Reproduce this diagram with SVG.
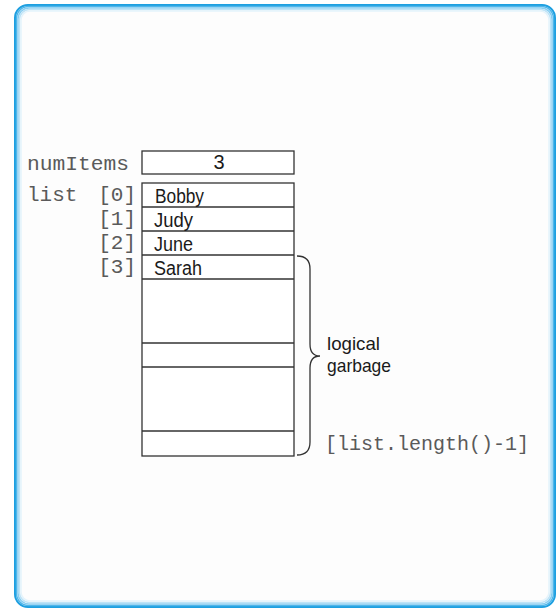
<svg xmlns="http://www.w3.org/2000/svg" width="558" height="611" viewBox="0 0 558 611">
<style>
.mono{font-family:"Liberation Mono","DejaVu Sans Mono",monospace;font-size:21px;fill:#5a5a5a}
.sans{font-family:"Liberation Sans",Arial,sans-serif;font-size:20px;fill:#1a1a1a}
.cell{fill:#ffffff;stroke:#333;stroke-width:1.3}
.line{stroke:#333;stroke-width:1.3}
.brace{fill:none;stroke:#333;stroke-width:1.3}
</style>
<rect x="0" y="0" width="558" height="611" fill="#ffffff"/>
<g id="frame" fill="none">
<rect x="15" y="5" width="540" height="602" rx="13" fill="#fdfdfd" stroke="#1d9fe0" stroke-width="2"/>
<rect x="16.5" y="6.5" width="537" height="599" rx="12" stroke="#4fb6ea" stroke-width="1.5"/>
<rect x="18" y="8" width="534" height="596" rx="11" stroke="#86cdf1" stroke-width="1.5"/>
<rect x="19.5" y="9.5" width="531" height="593" rx="10" stroke="#bde3f7" stroke-width="1.5"/>
<rect x="21" y="11" width="528" height="590" rx="9" stroke="#e4f3fb" stroke-width="1.5"/>
</g>
<g id="numItems">
<text class="mono" x="27" y="170" textLength="102" lengthAdjust="spacingAndGlyphs">numItems</text>
<rect class="cell" x="142" y="151" width="152" height="23"/>
<text class="sans" x="219" y="169" text-anchor="middle">3</text>
</g>
<g id="list">
<text class="mono" x="27" y="201">list</text>
<rect class="cell" x="142" y="183" width="152" height="273"/>
<line class="line" x1="142" y1="207" x2="294" y2="207"/>
<line class="line" x1="142" y1="231" x2="294" y2="231"/>
<line class="line" x1="142" y1="255" x2="294" y2="255"/>
<line class="line" x1="142" y1="279" x2="294" y2="279"/>
<line class="line" x1="142" y1="343" x2="294" y2="343"/>
<line class="line" x1="142" y1="367" x2="294" y2="367"/>
<line class="line" x1="142" y1="431" x2="294" y2="431"/>
<text class="mono" x="136" y="201" text-anchor="end">[0]</text>
<text class="mono" x="136" y="225" text-anchor="end">[1]</text>
<text class="mono" x="136" y="249" text-anchor="end">[2]</text>
<text class="mono" x="136" y="273" text-anchor="end">[3]</text>
<text class="sans" x="155" y="203" textLength="49" lengthAdjust="spacingAndGlyphs">Bobby</text>
<text class="sans" x="154" y="227" textLength="39" lengthAdjust="spacingAndGlyphs">Judy</text>
<text class="sans" x="154" y="251" textLength="39" lengthAdjust="spacingAndGlyphs">June</text>
<text class="sans" x="154" y="275" textLength="48" lengthAdjust="spacingAndGlyphs">Sarah</text>
</g>
<g id="garbage">
<path class="brace" d="M297,256 Q310,256 310,269 L310,344 Q310,356 320,356 Q310,356 310,368 L310,442 Q310,455 297,455"/>
<text class="sans" x="327" y="350" style="font-size:18.5px" textLength="53" lengthAdjust="spacingAndGlyphs">logical</text>
<text class="sans" x="327" y="372" style="font-size:18.5px" textLength="64" lengthAdjust="spacingAndGlyphs">garbage</text>
<text class="mono" x="325" y="450" style="font-size:20px">[list.length()-1]</text>
</g>
</svg>
